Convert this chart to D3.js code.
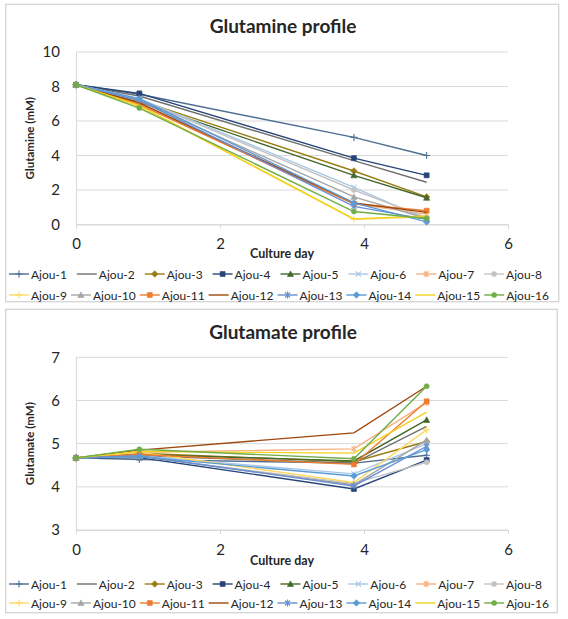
<!DOCTYPE html>
<html><head><meta charset="utf-8">
<script src="https://cdn.jsdelivr.net/npm/d3@7"></script>
<style>
body{margin:0;background:#fff}
svg{display:block}
text{font-family:Lato,"Open Sans",sans-serif;fill:#262626}
</style>
</head><body>
<svg id="chart" width="568" height="619"></svg>
<script>
// ---------- DATA ----------
const seriesNames = ["Ajou-1","Ajou-2","Ajou-3","Ajou-4","Ajou-5","Ajou-6","Ajou-7","Ajou-8",
                     "Ajou-9","Ajou-10","Ajou-11","Ajou-12","Ajou-13","Ajou-14","Ajou-15","Ajou-16"];
const seriesColors = ["#4e6e91","#6f6f6f","#9a7d12","#264478","#43682b","#a9c8e8","#f4b183","#c3c3c3",
                      "#ffd966","#a5a5a5","#ed7d31","#9e480e","#698ed0","#5b9bd5","#f2d21b","#70ad47"];
const seriesMarkers = ["plus","none","diamond","square","triangle","cross","star","circle",
                       "plus","triangle","square","none","star","diamond","none","circle"];
const cultureDays = [0, 0.88, 3.86, 4.87];

// Glutamine (mM) per series at each culture day
const glutamine = [
  [8.1, 7.55, 5.05, 4.00],
  [8.1, 7.45, 3.70, 2.45],
  [8.1, 7.20, 3.10, 1.60],
  [8.1, 7.60, 3.85, 2.85],
  [8.1, 7.10, 2.85, 1.55],
  [8.1, 7.30, 2.15, 0.30],
  [8.1, 7.00, 1.20, 0.60],
  [8.1, 7.25, 2.00, 0.40],
  [8.1, 6.85, 0.30, 0.45],
  [8.1, 7.15, 1.60, 0.35],
  [8.1, 6.95, 1.20, 0.80],
  [8.1, 7.05, 1.25, 0.70],
  [8.1, 7.20, 1.05, 0.30],
  [8.1, 7.30, 1.25, 0.15],
  [8.1, 6.90, 0.32, 0.50],
  [8.1, 6.75, 0.75, 0.35]
];

// Glutamate (mM) per series at each culture day
const glutamate = [
  [4.67, 4.63, 4.55, 4.73],
  [4.67, 4.72, 4.55, 5.40],
  [4.67, 4.78, 4.58, 5.05],
  [4.67, 4.68, 3.95, 4.62],
  [4.67, 4.75, 4.60, 5.55],
  [4.67, 4.72, 4.30, 5.00],
  [4.67, 4.80, 4.88, 5.95],
  [4.67, 4.70, 4.08, 4.57],
  [4.67, 4.80, 4.10, 5.32],
  [4.67, 4.70, 4.05, 5.08],
  [4.67, 4.75, 4.52, 5.98],
  [4.67, 4.85, 5.25, 6.33],
  [4.67, 4.72, 4.02, 4.94],
  [4.67, 4.70, 4.25, 4.86],
  [4.67, 4.82, 4.78, 5.73],
  [4.67, 4.87, 4.65, 6.33]
];

const xTickValues = [0, 2, 4, 6];
const glnTickValues = [0, 2, 4, 6, 8, 10];
const gluTickValues = [3, 4, 5, 6, 7];

// ---------- DRAW ----------
const svg = d3.select("#chart");

function symbolPath(type, s) {
  const h = s / 2;
  switch (type) {
    case "square": return `M${-h},${-h}H${h}V${h}H${-h}Z`;
    case "diamond": return `M0,${-h-0.8}L${h+0.8},0L0,${h+0.8}L${-h-0.8},0Z`;
    case "triangle": return `M0,${-h-0.6}L${h+0.6},${h}L${-h-0.6},${h}Z`;
    case "circle": return d3.symbol(d3.symbolCircle, s * s * 0.8)();
    case "plus": return `M${-h-1},0H${h+1}M0,${-h-1}V${h+1}`;
    case "cross": return `M${-h},${-h}L${h},${h}M${-h},${h}L${h},${-h}`;
    case "star": return `M${-h},${-h}L${h},${h}M${-h},${h}L${h},${-h}M0,${-h-1}V${h+1}`;
    default: return null;
  }
}
function drawMarker(g, type, color, x, y) {
  const p = symbolPath(type, 5);
  if (!p) return;
  const open = (type === "plus" || type === "cross" || type === "star");
  g.append("path").attr("d", p).attr("transform", `translate(${x},${y})`)
    .attr("fill", open ? "none" : color)
    .attr("stroke", color).attr("stroke-width", open ? 1.1 : 0.6);
}

function drawChart(cfg) {
  const g = svg.append("g");
  g.append("rect").attr("x", cfg.box[0]).attr("y", cfg.box[1])
    .attr("width", cfg.box[2] - cfg.box[0]).attr("height", cfg.box[3] - cfg.box[1])
    .attr("fill", "#fff").attr("stroke", "#d4d4d4").attr("stroke-width", 1.3);

  const x = d3.scaleLinear().domain([0, 6]).range([76, 508]);
  const y = d3.scaleLinear().domain(cfg.yDomain).range([cfg.plotBottom, cfg.plotTop]);

  // gridlines
  g.append("g").selectAll("line").data(cfg.yTicks).join("line")
    .attr("x1", x(0)).attr("x2", x(6))
    .attr("y1", d => y(d)).attr("y2", d => y(d))
    .attr("stroke", "#d9d9d9").attr("stroke-width", 1);

  // y axis
  const ya = g.append("g").attr("transform", `translate(${x(0)},0)`)
    .call(d3.axisLeft(y).tickValues(cfg.yTicks).tickSize(0).tickPadding(16).tickFormat(d3.format("d")));
  ya.select(".domain").attr("stroke", "#d9d9d9");
  ya.selectAll("text").attr("font-size", 15).attr("fill", "#262626")
    .style("font-family", "Lato, sans-serif");

  // x axis
  const xa = g.append("g").attr("transform", `translate(0,${cfg.plotBottom})`)
    .call(d3.axisBottom(x).tickValues(xTickValues).tickSize(4).tickPadding(10).tickFormat(d3.format("d")));
  xa.select(".domain").attr("stroke", "#d9d9d9");
  xa.selectAll(".tick line").attr("stroke", "#d9d9d9");
  xa.selectAll("text").attr("font-size", 15).attr("fill", "#262626")
    .style("font-family", "Lato, sans-serif");

  // title
  g.append("text").attr("x", 283).attr("y", cfg.titleY).attr("text-anchor", "middle")
    .attr("dominant-baseline", "central").attr("font-size", 19).attr("font-weight", "bold")
    .text(cfg.title);
  // axis titles
  g.append("text").attr("x", 282).attr("y", cfg.xTitleY).attr("text-anchor", "middle")
    .attr("dominant-baseline", "central").attr("font-size", 12.5).attr("font-weight", "bold")
    .text("Culture day");
  g.append("text").attr("transform", `translate(29,${(cfg.plotTop + cfg.plotBottom) / 2}) rotate(-90)`)
    .attr("text-anchor", "middle").attr("dominant-baseline", "central")
    .attr("font-size", 11.5).attr("font-weight", "bold").text(cfg.yTitle);

  // lines
  const line = d3.line().x((d, i) => x(cultureDays[i])).y(d => y(d));
  cfg.values.forEach((vals, si) => {
    const sg = g.append("g");
    sg.append("path").attr("d", line(vals)).attr("fill", "none")
      .attr("stroke", seriesColors[si]).attr("stroke-width", 1.4);
    vals.forEach((v, i) => drawMarker(sg, seriesMarkers[si], seriesColors[si], x(cultureDays[i]), y(v)));
  });

  // legend
  const rows = [[0, 8], [8, 16]];
  rows.forEach((r, ri) => {
    const ly = cfg.legendY[ri];
    const items = [];
    for (let i = r[0]; i < r[1]; i++) {
      const ig = g.append("g");
      ig.append("line").attr("x1", 0).attr("x2", 20).attr("y1", 0).attr("y2", 0)
        .attr("stroke", seriesColors[i]).attr("stroke-width", 1.4);
      drawMarker(ig, seriesMarkers[i], seriesColors[i], 10, 0);
      const t = ig.append("text").attr("x", 22).attr("y", 0).attr("dominant-baseline", "central")
        .attr("font-size", 12).text(seriesNames[i]);
      items.push({ g: ig, w: 22 + t.node().getComputedTextLength() });
    }
    const total = d3.sum(items, d => d.w);
    const start = 9, end = cfg.legendEnd[ri];
    const gap = (end - start - total) / (items.length - 1);
    let cx = start;
    items.forEach(it => { it.g.attr("transform", `translate(${cx},${ly})`); cx += it.w + gap; });
  });
}

drawChart({
  box: [5.7, 4.3, 558.7, 301.7], title: "Glutamine profile", titleY: 25,
  yTitle: "Glutamine (mM)", yDomain: [0, 10], yTicks: glnTickValues,
  plotTop: 52, plotBottom: 224.5, xTitleY: 253, legendY: [274, 295], legendEnd: [542, 549],
  values: glutamine
});
drawChart({
  box: [5.7, 309.3, 557.3, 612.7], title: "Glutamate profile", titleY: 331,
  yTitle: "Glutamate (mM)", yDomain: [3, 7], yTicks: gluTickValues,
  plotTop: 357.3, plotBottom: 530, xTitleY: 560, legendY: [584, 603], legendEnd: [542, 549],
  values: glutamate
});
</script>
</body></html>
